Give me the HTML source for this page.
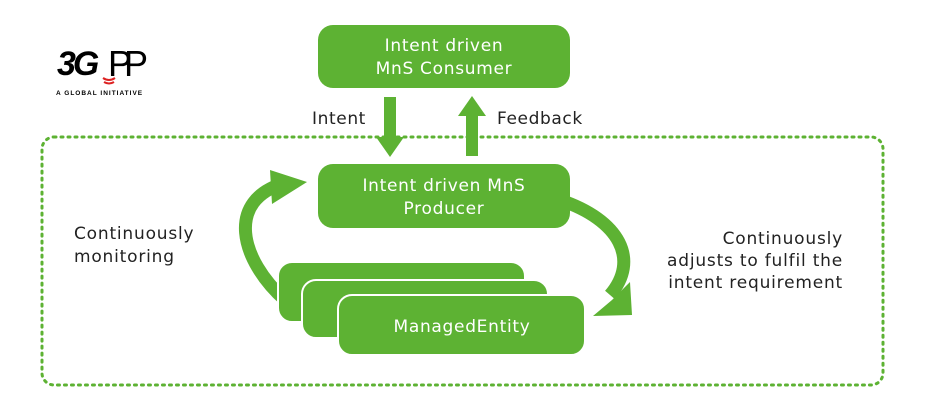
<!DOCTYPE html>
<html><head><meta charset="utf-8"><style>
body{margin:0;background:#fff}
svg{display:block;font-family:"DejaVu Sans","Liberation Sans",sans-serif}
</style></head><body>
<svg width="950" height="415" viewBox="0 0 950 415">
<rect x="42" y="137" width="841" height="248" rx="12" fill="none" stroke="#5db233" stroke-width="3" stroke-dasharray="2,5" stroke-linecap="round"/>
<!-- logo -->
<text x="57" y="75" font-size="34" font-weight="bold" font-style="italic" fill="#000" letter-spacing="-3" font-family="Liberation Sans">3G</text>
<text x="108" y="76" font-size="36" fill="#000" letter-spacing="-8" font-family="Liberation Sans">PP</text>
<path d="M103 78 q6 4 12 0 M104 82 q5 3 10 0" stroke="#d22" stroke-width="2" fill="none"/>
<text x="56" y="95" font-size="6.5" font-weight="bold" fill="#000" letter-spacing="1" font-family="Liberation Sans">A GLOBAL INITIATIVE</text>
<!-- consumer -->
<rect x="318" y="25" width="252" height="63" rx="15" fill="#5db233"/>
<text x="444" y="51" font-size="17" fill="#fff" text-anchor="middle" letter-spacing="0.7">Intent driven</text>
<text x="444" y="74" font-size="17" fill="#fff" text-anchor="middle" letter-spacing="0.7">MnS Consumer</text>
<!-- intent / feedback arrows -->
<rect x="384" y="97" width="12" height="42" fill="#5db233"/>
<polygon points="376,137 404,137 390,157" fill="#5db233"/>
<rect x="466" y="114" width="12" height="42" fill="#5db233"/>
<polygon points="458,116 486,116 472,96" fill="#5db233"/>
<text x="312" y="124" font-size="17" fill="#222" letter-spacing="0.6">Intent</text>
<text x="497" y="124" font-size="17" fill="#222" letter-spacing="0.6">Feedback</text>
<!-- curved arrows -->
<path d="M285 300 C240 260 225 200 285 183" fill="none" stroke="#5db233" stroke-width="13"/>
<polygon points="270,170 307,182 272,204" fill="#5db233"/>
<path d="M560 200 C620 220 640 260 610 295" fill="none" stroke="#5db233" stroke-width="13"/>
<polygon points="593,316 632,315 630,282 612,300" fill="#5db233"/>
<!-- producer -->
<rect x="318" y="164" width="252" height="64" rx="15" fill="#5db233"/>
<text x="444" y="191" font-size="17" fill="#fff" text-anchor="middle" letter-spacing="0.7">Intent driven MnS</text>
<text x="444" y="214" font-size="17" fill="#fff" text-anchor="middle" letter-spacing="0.7">Producer</text>
<!-- managed entities -->
<rect x="278" y="262" width="247" height="60" rx="14" fill="#5db233" stroke="#fff" stroke-width="2"/>
<rect x="302" y="280" width="246" height="58" rx="14" fill="#5db233" stroke="#fff" stroke-width="2"/>
<rect x="338" y="295" width="247" height="60" rx="14" fill="#5db233" stroke="#fff" stroke-width="2"/>
<text x="462" y="332" font-size="17" fill="#fff" text-anchor="middle" letter-spacing="0.7">ManagedEntity</text>
<!-- side labels -->
<text x="74" y="239" font-size="17" fill="#222" letter-spacing="0.8">Continuously</text>
<text x="74" y="262" font-size="17" fill="#222" letter-spacing="0.8">monitoring</text>
<text x="843" y="244" font-size="17" fill="#222" text-anchor="end" letter-spacing="0.8">Continuously</text>
<text x="843" y="266" font-size="17" fill="#222" text-anchor="end" letter-spacing="0.8">adjusts to fulfil the</text>
<text x="843" y="288" font-size="17" fill="#222" text-anchor="end" letter-spacing="0.8">intent requirement</text>
</svg>
</body></html>
